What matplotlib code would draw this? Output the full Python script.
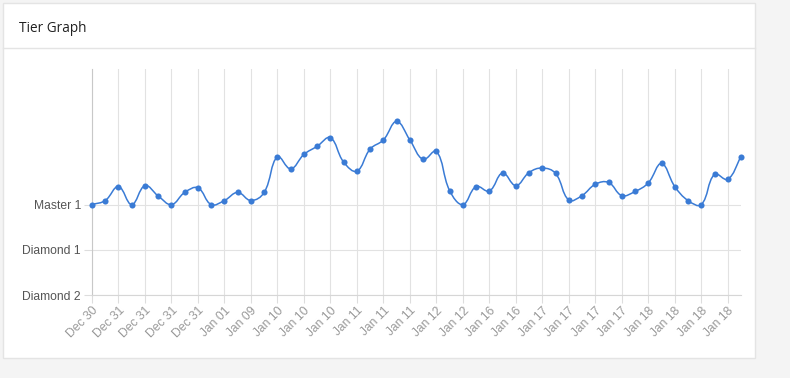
import matplotlib
matplotlib.use("Agg")
import matplotlib.pyplot as plt
import numpy as np
from matplotlib.patches import Rectangle, PathPatch
from matplotlib.path import Path

# LP above Master 1 (Master 1 = 0, Diamond 1 = -100, Diamond 2 = -200)
dates = ["Dec 30", "Dec 31", "Dec 31", "Dec 31", "Dec 31", "Dec 31", "Dec 31", "Dec 31",
         "Dec 31", "Dec 31", "Jan 01", "Jan 01", "Jan 09", "Jan 09", "Jan 10", "Jan 10",
         "Jan 10", "Jan 10", "Jan 10", "Jan 10", "Jan 11", "Jan 11", "Jan 11", "Jan 11",
         "Jan 11", "Jan 11", "Jan 12", "Jan 12", "Jan 12", "Jan 12", "Jan 16", "Jan 16",
         "Jan 16", "Jan 16", "Jan 17", "Jan 17", "Jan 17", "Jan 17", "Jan 17", "Jan 17",
         "Jan 17", "Jan 17", "Jan 18", "Jan 18", "Jan 18", "Jan 18", "Jan 18", "Jan 18",
         "Jan 18", "Jan 18"]
lp = [0, 9, 40, 0, 42, 19, 0, 27, 37, 0,
      9, 27, 9, 27, 106, 79, 111, 129, 148, 94,
      74, 123, 143, 184, 143, 100, 118, 31, 0, 40,
      30, 70, 42, 71, 81, 69, 10, 20, 45, 49,
      20, 29, 48, 91, 40, 9, 0, 67, 56, 106]
tier_ticks = [0, -100, -200]
tier_names = ["Master 1", "Diamond 1", "Diamond 2"]

W, H = 790, 378
fig = plt.figure(figsize=(W / 100, H / 100), dpi=100)
fig.patch.set_facecolor("#f4f4f4")


def fx(px):
    return px / W


def fy(py):
    return 1 - py / H


# card + header
fig.patches.append(Rectangle((fx(3), fy(358)), fx(752), 355 / H, transform=fig.transFigure,
                             facecolor="white", edgecolor="#e4e4e4", lw=1, zorder=-5))
fig.add_artist(plt.Line2D([fx(3), fx(755)], [fy(48), fy(48)], transform=fig.transFigure,
                          color="#e4e4e4", lw=1, zorder=-4))
fig.text(fx(19), fy(27), "Tier Graph", fontsize=9.8, color="#212121",
         family=["Open Sans", "DejaVu Sans"], va="center_baseline", ha="left")

left, right, top, bottom = 92, 741, 69, 295
ax = fig.add_axes([fx(left), fy(bottom), (right - left) / W, (bottom - top) / H])
ax.set_zorder(2)
ax.set_facecolor("white")

x = np.arange(len(lp))
y = np.array(lp, dtype=float)
ax.set_xlim(0, len(lp) - 1)
ax.set_ylim(-200, 300)

# smooth line like chart.js (tension 0.4), control points computed in pixel space
sx = (right - left) / (len(lp) - 1)
sy = (bottom - top) / 500
px, py = x * sx, y * sy
verts = [(x[0], y[0])]
codes = [Path.MOVETO]
t = 0.4
cp_next = []
cp_prev = []
for i in range(len(x)):
    a = max(i - 1, 0)
    b = min(i + 1, len(x) - 1)
    d01 = np.hypot(px[i] - px[a], py[i] - py[a])
    d12 = np.hypot(px[b] - px[i], py[b] - py[i])
    tot = d01 + d12 if d01 + d12 > 0 else 1
    fa, fb = t * d01 / tot, t * d12 / tot
    dx, dy = px[b] - px[a], py[b] - py[a]
    cp_prev.append(((px[i] - fa * dx) / sx, (py[i] - fa * dy) / sy))
    cp_next.append(((px[i] + fb * dx) / sx, (py[i] + fb * dy) / sy))
for i in range(1, len(x)):
    verts += [cp_next[i - 1], cp_prev[i], (x[i], y[i])]
    codes += [Path.CURVE4] * 3
ax.add_patch(PathPatch(Path(verts, codes), facecolor="none", edgecolor="#3a7bd5",
                       lw=1.1, zorder=3, clip_on=False))
ax.plot(x, y, "o", color="#3a7bd5", ms=4.4, mew=0, zorder=4, clip_on=False)

# grid and ticks
ax.set_yticks(tier_ticks)
ax.set_yticklabels(tier_names, family=["Liberation Sans", "DejaVu Sans"], fontsize=8.7,
                   color="#555555")
ax.set_xticks(x[::2])
ax.set_xticklabels(dates[::2], rotation=45, ha="right", va="top", rotation_mode="anchor",
                   family=["Liberation Sans", "DejaVu Sans"], fontsize=8.7, color="#999999")
ax.tick_params(axis="y", length=6, color="#dddddd", pad=2)
ax.tick_params(axis="x", length=6, color="#dddddd", pad=1)
ax.grid(True, color="#e2e2e2", lw=0.8)
ax.set_axisbelow(True)
for s in ["top", "right"]:
    ax.spines[s].set_visible(False)
ax.spines["left"].set_color("#c8c8c8")
ax.spines["bottom"].set_color("#d6d6d6")
ax.spines["left"].set_linewidth(0.8)
ax.spines["bottom"].set_linewidth(0.8)

fig.savefig("out.png", dpi=100, facecolor=fig.get_facecolor())
